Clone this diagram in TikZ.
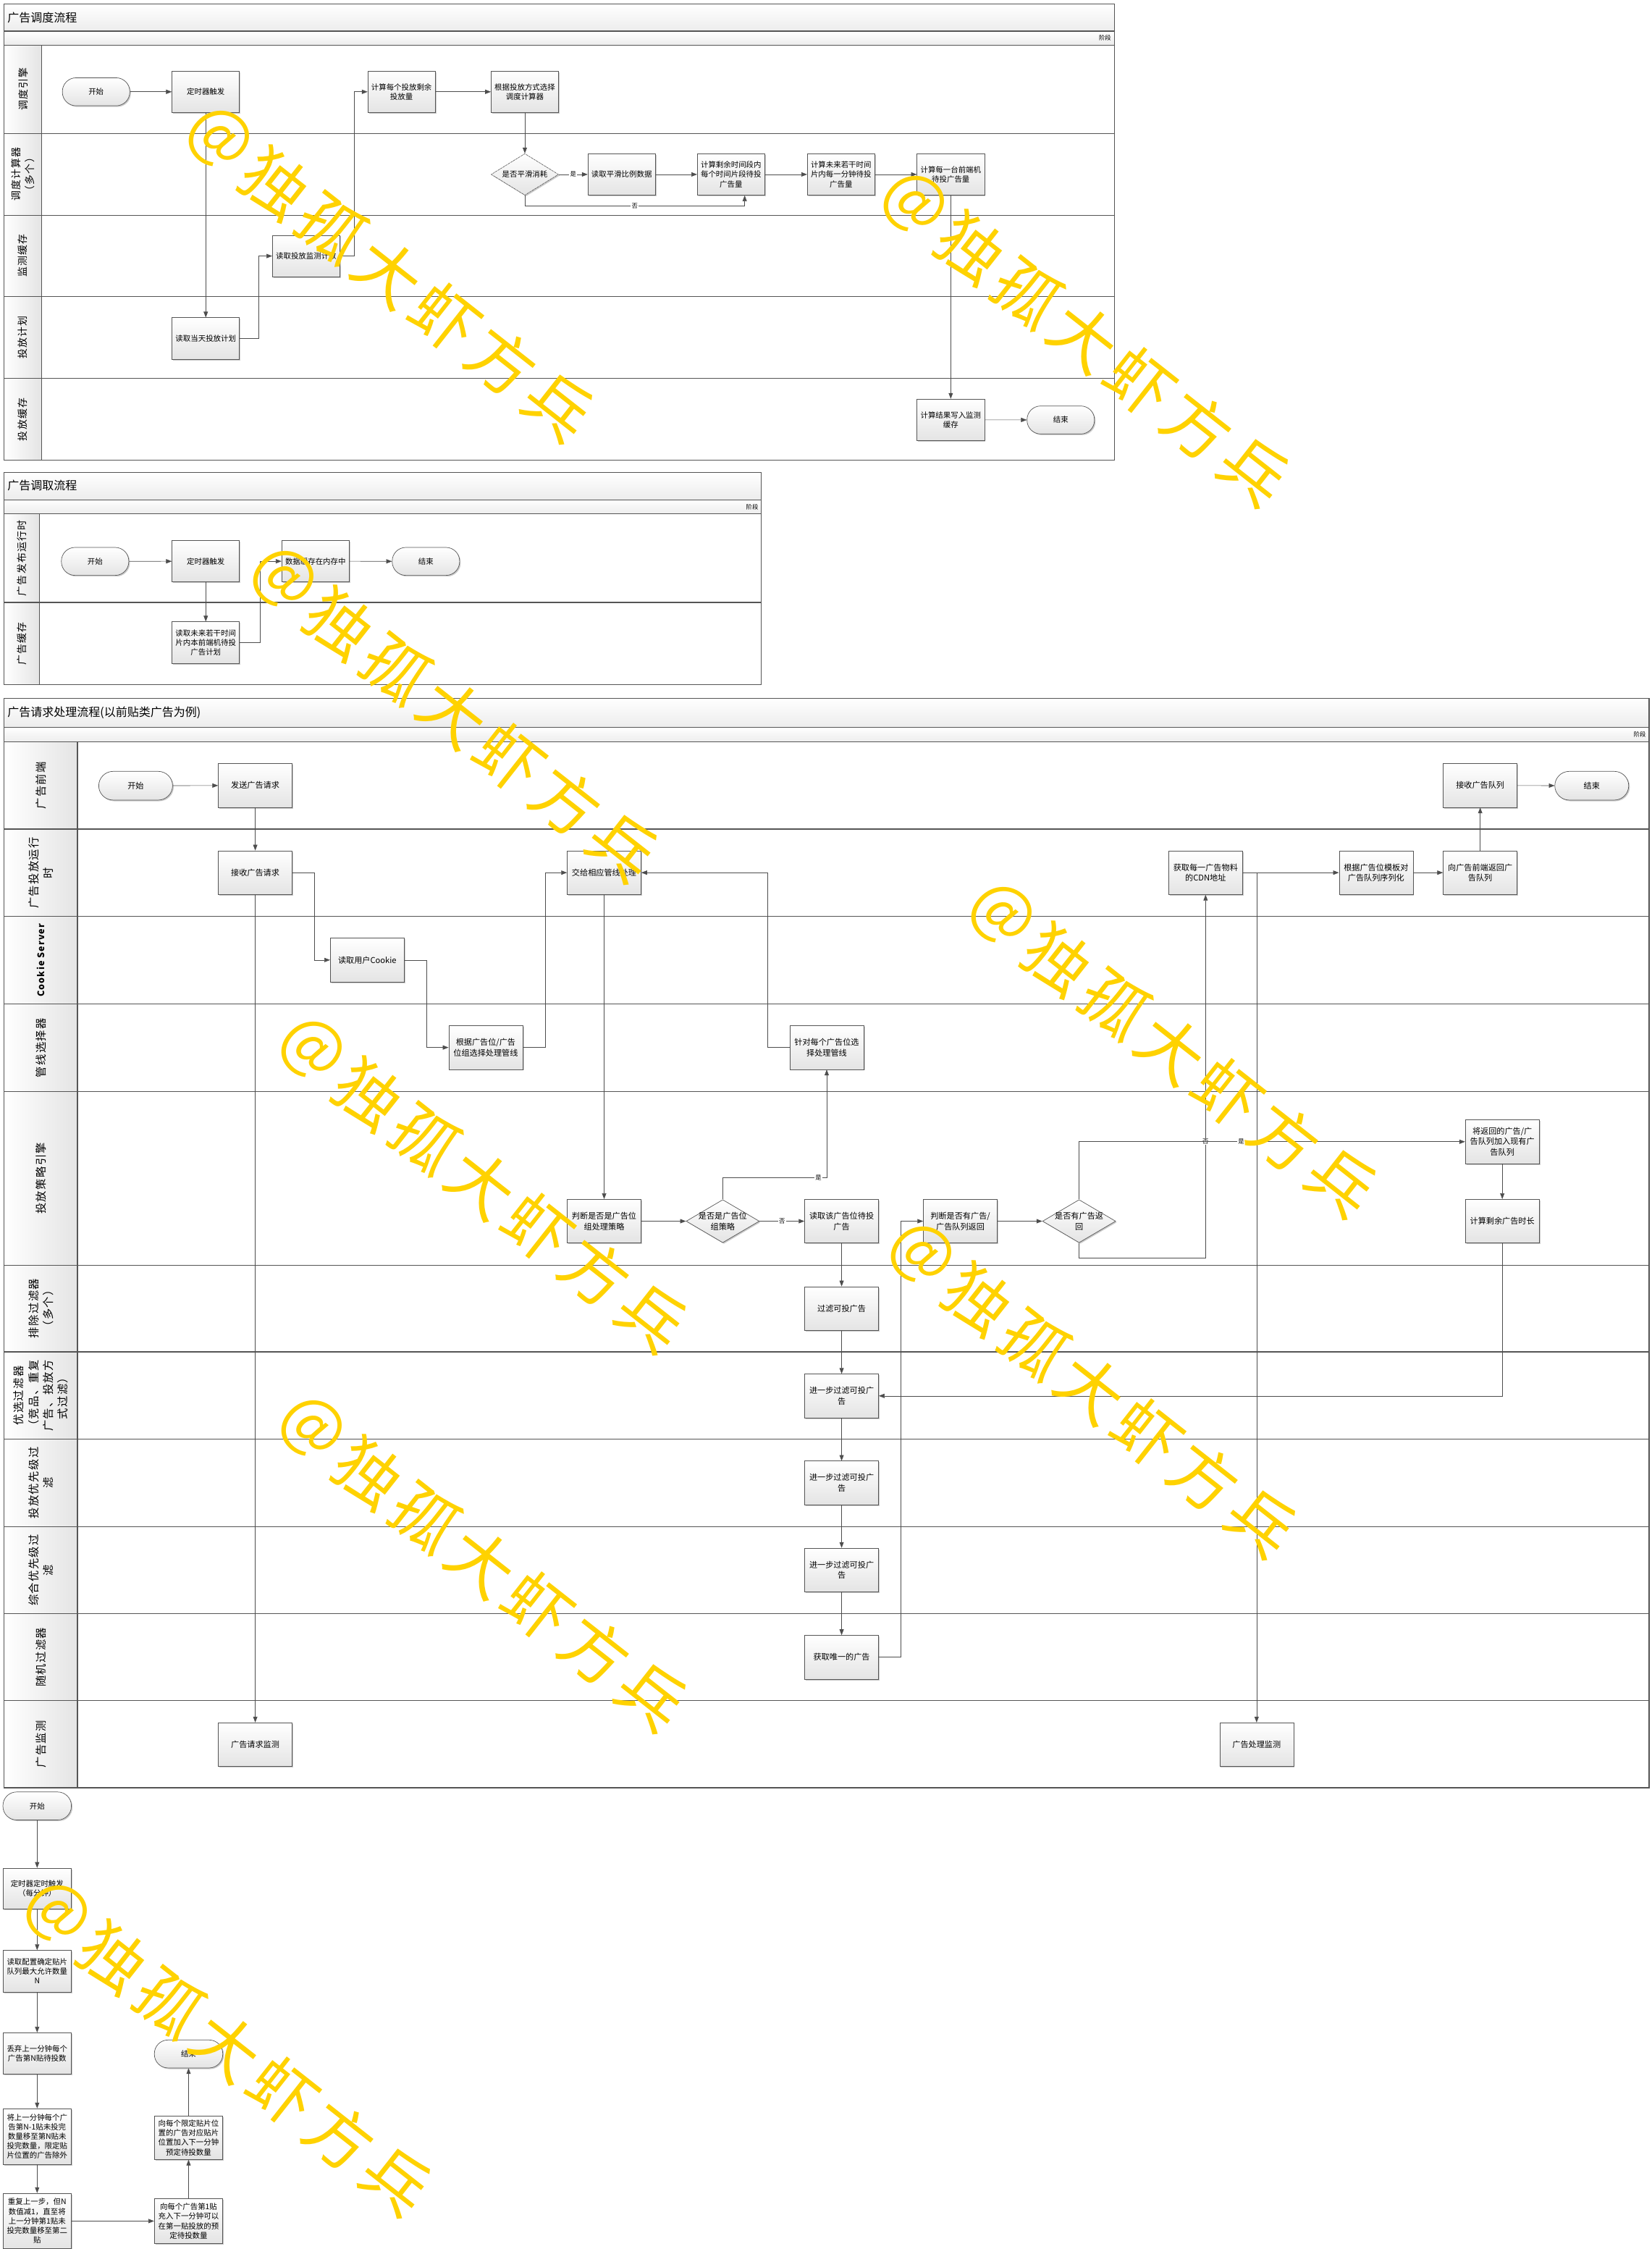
\documentclass[tikz,border=0pt]{standalone}
\usepackage{fontspec}
\setmainfont{Noto Sans CJK SC}
\newfontfamily\lanefont{Noto Sans CJK SC}[LetterSpace=9]
\newfontfamily\wmfont{Noto Sans CJK SC}[LetterSpace=10]
\usetikzlibrary{positioning, shapes.geometric, shadows, arrows.meta}

\definecolor{linegray}{HTML}{4D4D4D}
\definecolor{framegray}{HTML}{555555}
\definecolor{bandgray}{HTML}{E4E4E4}
\definecolor{wmyellow}{HTML}{FFD200}

\tikzset{
  box/.style={draw=framegray, line width=0.35mm, top color=white, bottom color=bandgray,
    minimum width=47mm, minimum height=29mm, inner sep=0.5mm, align=center,
    font=\fontsize{15pt}{19pt}\selectfont,
    drop shadow={shadow xshift=0.8mm, shadow yshift=-0.8mm, fill=black!35, opacity=0.6}},
  bigbox/.style={box, minimum width=51.5mm, minimum height=30.5mm,
    font=\fontsize{16pt}{21pt}\selectfont},
  term/.style={box, rounded corners=9.5mm, minimum height=19.5mm},
  bigterm/.style={bigbox, rounded corners=10mm, minimum height=20mm},
  decision/.style={box, shape=diamond, inner sep=-8mm, densely dashdotted},
  bigdecision/.style={bigbox, shape=diamond, inner sep=-8mm, minimum width=51mm, minimum height=30mm},
  flow/.style={draw=linegray, line width=0.3mm, -{Triangle[length=4mm, width=3mm]}},
  yesno/.style={fill=white, inner sep=0.6mm, font=\fontsize{12pt}{12pt}\selectfont},
  frame/.style={draw=framegray, line width=0.55mm},
  title/.style={anchor=west, font=\fontsize{23pt}{23pt}\selectfont},
  phase/.style={anchor=east, font=\fontsize{12pt}{12pt}\selectfont},
  lane/.style={rotate=90, align=center, font=\lanefont\fontsize{20pt}{28pt}\selectfont},
  biglane/.style={lane, font=\lanefont\fontsize{22pt}{29pt}\selectfont},
  wmark/.style={rotate=-38.2, text=wmyellow, font=\wmfont\fontsize{130pt}{130pt}\selectfont}
}

\begin{document}
\begin{tikzpicture}[x=1mm, y=-1mm]
\useasboundingbox (0,0) rectangle (1152,1568);

% 广告调度流程
\shade[top color=white, bottom color=bandgray!70] (3,3) rectangle (777,21.7);
\shade[top color=white, bottom color=bandgray!70] (3,21.7) rectangle (777,31.4);
\shade[left color=white, right color=bandgray] (3,31.4) rectangle (29,321);
\draw[frame] (3,3) rectangle (777,321);
\draw[frame] (3,21.7) -- (777,21.7);
\draw[frame] (3,31.4) -- (777,31.4);
\draw[frame] (29,31.4) -- (29,321);
\draw[frame] (3,93) -- (777,93);
\draw[frame] (3,150) -- (777,150);
\draw[frame] (3,206.6) -- (777,206.6);
\draw[frame] (3,264) -- (777,264);
\node[title] (t1) at (4,12.3) {广告调度流程};
\node[phase] (p1) at (776,26.5) {阶段};
\node[lane] (l1a) at (16,62.2) {调度引擎};
\node[lane] (l1b) at (16,121.5) {调度计算器\\（多个）};
\node[lane] (l1c) at (16,178.3) {监测缓存};
\node[lane] (l1d) at (16,235.3) {投放计划};
\node[lane] (l1e) at (16,292.5) {投放缓存};

\node[term] (s1start) at (67,64) {开始};
\node[box] (s1timer) at (143.5,64) {定时器触发};
\node[box] (s1plan) at (143.5,236) {读取当天投放计划};
\node[box] (s1count) at (213.5,178.5) {读取投放监测计数};
\node[box] (s1remain) at (280,64) {计算每个投放剩余\\投放量};
\node[box] (s1choose) at (366,64) {根据投放方式选择\\调度计算器};
\node[decision] (s1smooth) at (366,121.6) {是否平滑消耗};
\node[box] (s1ratio) at (433.5,121.6) {读取平滑比例数据};
\node[box] (s1slice) at (509.8,121.6) {计算剩余时间段内\\每个时间片段待投\\广告量};
\node[box] (s1minute) at (586.5,121.6) {计算未来若干时间\\片内每一分钟待投\\广告量};
\node[box] (s1front) at (663,121.6) {计算每一台前端机\\待投广告量};
\node[box] (s1write) at (663,292.7) {计算结果写入监测\\缓存};
\node[term] (s1end) at (739.7,292.8) {结束};

\draw[flow] (s1start) -- (s1timer);
\draw[flow] (s1timer) -- (s1plan);
\draw[flow] (s1plan.east) -- ++(13,0) |- (s1count.west);
\draw[flow] (s1count.east) -- ++(10,0) |- (s1remain.west);
\draw[flow] (s1remain) -- (s1choose);
\draw[flow] (s1choose) -- (s1smooth);
\draw[flow] (s1smooth) -- (s1ratio) node[yesno, pos=0.5] {是};
\draw[flow] (s1smooth.south) -- ++(0,7.3) -| ([xshift=9.5mm]s1slice.south) node[yesno, pos=0.25] {否};
\draw[flow] (s1ratio) -- (s1slice);
\draw[flow] (s1slice) -- (s1minute);
\draw[flow] (s1minute) -- (s1front);
\draw[flow] (s1front) -- (s1write);
\draw[flow] (s1write) -- (s1end);

% 广告调取流程
\shade[top color=white, bottom color=bandgray!70] (3,329.6) rectangle (531,348.5);
\shade[top color=white, bottom color=bandgray!70] (3,348.5) rectangle (531,358.2);
\shade[left color=white, right color=bandgray] (3,358.2) rectangle (27.5,477.3);
\draw[frame] (3,329.6) rectangle (531,477.3);
\draw[frame] (3,348.5) -- (531,348.5);
\draw[frame] (3,358.2) -- (531,358.2);
\draw[frame] (27.5,358.2) -- (27.5,477.3);
\draw[frame] (3,420) -- (531,420);
\node[title] (t2) at (4,338.7) {广告调取流程};
\node[phase] (p2) at (530,353.3) {阶段};
\node[lane] (l2a) at (15.2,389.1) {广告发布运行时};
\node[lane] (l2b) at (15.2,448.7) {广告缓存};

\node[term] (s2start) at (66.3,391.4) {开始};
\node[box] (s2timer) at (143.5,391.3) {定时器触发};
\node[box] (s2read) at (143.5,448) {读取未来若干时间\\片内本前端机待投\\广告计划};
\node[box] (s2mem) at (220,391.3) {数据缓存在内存中};
\node[term] (s2end) at (297,391.4) {结束};

\draw[flow] (s2start) -- (s2timer);
\draw[flow] (s2timer) -- (s2read);
\draw[flow] (s2read.east) -- ++(14,0) |- (s2mem.west);
\draw[flow] (s2mem) -- (s2end);

% 广告请求处理流程
\shade[top color=white, bottom color=bandgray!70] (3,486.9) rectangle (1150,507.1);
\shade[top color=white, bottom color=bandgray!70] (3,507.1) rectangle (1150,517.4);
\shade[left color=white, right color=bandgray] (3,517.4) rectangle (54,1246.4);
\draw[frame] (3,486.9) rectangle (1150,1246.4);
\draw[frame] (3,507.1) -- (1150,507.1);
\draw[frame] (3,517.4) -- (1150,517.4);
\draw[frame] (54,517.4) -- (54,1246.4);
\draw[frame] (3,578) -- (1150,578);
\draw[frame] (3,639) -- (1150,639);
\draw[frame] (3,700) -- (1150,700);
\draw[frame] (3,761) -- (1150,761);
\draw[frame] (3,882) -- (1150,882);
\draw[frame] (3,942.5) -- (1150,942.5);
\draw[frame] (3,1003.4) -- (1150,1003.4);
\draw[frame] (3,1064.3) -- (1150,1064.3);
\draw[frame] (3,1125.1) -- (1150,1125.1);
\draw[frame] (3,1185.7) -- (1150,1185.7);
\node[title] (t3) at (4,497) {广告请求处理流程(以前贴类广告为例)};
\node[phase] (p3) at (1149,512.2) {阶段};
\node[biglane] (l3a) at (28.5,547.7) {广告前端};
\node[biglane] (l3b) at (28.5,608.5) {广告投放运行\\时};
\node[biglane, font=\lanefont\bfseries\fontsize{18pt}{24pt}\selectfont] (l3c) at (28.5,669.5) {Cookie Server};
\node[biglane] (l3d) at (28.5,730.5) {管线选择器};
\node[biglane] (l3e) at (28.5,821.5) {投放策略引擎};
\node[biglane] (l3f) at (28.5,912.2) {排除过滤器\\（多个）};
\node[biglane] (l3g) at (28.5,973) {优选过滤器\\（竞品、重复\\广告、投放方\\式过滤）};
\node[biglane] (l3h) at (28.5,1033.9) {投放优先级过\\滤};
\node[biglane] (l3i) at (28.5,1094.7) {综合优先级过\\滤};
\node[biglane] (l3j) at (28.5,1155.4) {随机过滤器};
\node[biglane] (l3k) at (28.5,1216) {广告监测};

\node[bigterm] (s3start) at (94.6,547.8) {开始};
\node[bigbox] (s3send) at (178,547.6) {发送广告请求};
\node[bigbox] (s3recv) at (178,608.4) {接收广告请求};
\node[bigbox] (s3cookie) at (256.1,669.3) {读取用户Cookie};
\node[bigbox] (s3pipe) at (338.7,730.3) {根据广告位/广告\\位组选择处理管线};
\node[bigbox] (s3hand) at (421.3,608.4) {交给相应管线处理};
\node[bigbox] (s3each) at (576.5,730.3) {针对每个广告位选\\择处理管线};
\node[bigbox] (s3judge) at (421.3,851.4) {判断是否是广告位\\组处理策略};
\node[bigdecision] (s3isgrp) at (504,851.4) {是否是广告位\\组策略};
\node[bigbox] (s3slot) at (586.9,851.4) {读取该广告位待投\\广告};
\node[bigbox] (s3filter) at (586.9,912.3) {过滤可投广告};
\node[bigbox] (s3pref) at (586.9,973.2) {进一步过滤可投广\\告};
\node[bigbox] (s3prio) at (586.9,1033.9) {进一步过滤可投广\\告};
\node[bigbox] (s3comp) at (586.9,1094.6) {进一步过滤可投广\\告};
\node[bigbox] (s3uniq) at (586.9,1155.4) {获取唯一的广告};
\node[bigbox] (s3hasq) at (669.7,851.4) {判断是否有广告/\\广告队列返回};
\node[bigdecision] (s3hasad) at (752.5,851.4) {是否有广告返\\回};
\node[bigbox] (s3cdn) at (840.7,608.4) {获取每一广告物料\\的CDN地址};
\node[bigbox] (s3tpl) at (959.6,608.4) {根据广告位模板对\\广告队列序列化};
\node[bigbox] (s3ret) at (1032.2,608.4) {向广告前端返回广\\告队列};
\node[bigbox] (s3queue) at (1032.2,547.6) {接收广告队列};
\node[bigterm] (s3end) at (1110,547.8) {结束};
\node[bigbox] (s3merge) at (1047.6,796) {将返回的广告/广\\告队列加入现有广\\告队列};
\node[bigbox] (s3rest) at (1047.6,851.4) {计算剩余广告时长};
\node[bigbox] (s3reqmon) at (178,1216.3) {广告请求监测};
\node[bigbox] (s3procmon) at (876.3,1216.3) {广告处理监测};

\draw[flow] (s3start) -- (s3send);
\draw[flow] (s3send) -- (s3recv);
\draw[flow] (s3recv.east) -- ++(15.5,0) |- (s3cookie.west);
\draw[flow] (s3cookie.east) -- ++(15.5,0) |- (s3pipe.west);
\draw[flow] (s3pipe.east) -- ++(15.5,0) |- (s3hand.west);
\draw[flow] (s3each.west) -- ++(-15.5,0) |- (s3hand.east);
\draw[flow] (s3hand) -- (s3judge);
\draw[flow] (s3recv) -- (s3reqmon);
\draw[flow] (s3judge) -- (s3isgrp);
\draw[flow] (s3isgrp) -- (s3slot) node[yesno, pos=0.5] {否};
\draw[flow] (s3isgrp.north) -- ++(0,-15) -| (s3each.south) node[yesno, pos=0.46] {是};
\draw[flow] (s3slot) -- (s3filter);
\draw[flow] (s3filter) -- (s3pref);
\draw[flow] (s3pref) -- (s3prio);
\draw[flow] (s3prio) -- (s3comp);
\draw[flow] (s3comp) -- (s3uniq);
\draw[flow] (s3uniq.east) -- ++(15.4,0) |- (s3hasq.west);
\draw[flow] (s3hasq) -- (s3hasad);
\draw[flow] (s3hasad.south) -- ++(0,10.2) -| (s3cdn.south) node[yesno, pos=0.66] {否};
\draw[flow] (s3hasad.north) |- (s3merge.west) node[yesno, pos=0.71] {是};
\draw[flow] (s3merge) -- (s3rest);
\draw[flow] (s3rest.south) |- (s3pref.east);
\draw[flow] (s3cdn) -- (s3tpl);
\draw[flow] (s3cdn.east) -| (s3procmon.north);
\draw[flow] (s3tpl) -- (s3ret);
\draw[flow] (s3ret) -- (s3queue);
\draw[flow] (s3queue) -- (s3end);

% 贴片队列
\node[term, minimum width=47.7mm] (s4start) at (25.9,1259.1) {开始};
\node[box, minimum width=47.7mm, minimum height=28.5mm] (s4timer) at (25.9,1316.7) {定时器定时触发\\（每分钟）};
\node[box, minimum width=47.7mm] (s4conf) at (25.9,1374.3) {读取配置确定贴片\\队列最大允许数量\\N};
\node[box, minimum width=47.7mm] (s4drop) at (25.9,1431.7) {丢弃上一分钟每个\\广告第N贴待投数};
\node[box, minimum width=47.7mm, minimum height=38.8mm] (s4move) at (25.9,1489.5) {将上一分钟每个广\\告第N-1贴未投完\\数量移至第N贴未\\投完数量，限定贴\\片位置的广告除外};
\node[box, minimum width=47.7mm, minimum height=38.7mm] (s4repeat) at (25.9,1548.5) {重复上一步，但N\\数值减1，直至将\\上一分钟第1贴未\\投完数量移至第二\\贴};
\node[box, minimum width=47.7mm, minimum height=31mm] (s4first) at (131.5,1548.5) {向每个广告第1贴\\充入下一分钟可以\\在第一贴投放的预\\定待投数量};
\node[box, minimum width=47.7mm, minimum height=30.3mm] (s4fixed) at (131.5,1490.4) {向每个限定贴片位\\置的广告对应贴片\\位置加入下一分钟\\预定待投数量};
\node[term, minimum width=47.7mm] (s4end) at (131.5,1432) {结束};

\draw[flow] (s4start) -- (s4timer);
\draw[flow] (s4timer) -- (s4conf);
\draw[flow] (s4conf) -- (s4drop);
\draw[flow] (s4drop) -- (s4move);
\draw[flow] (s4move) -- (s4repeat);
\draw[flow] (s4repeat) -- (s4first);
\draw[flow] (s4first) -- (s4fixed);
\draw[flow] (s4fixed) -- (s4end);

% 水印
\node[wmark] (wm1) at (271,190) {＠独孤大虾方兵};
\node[wmark] (wm2) at (756,235) {＠独孤大虾方兵};
\node[wmark] (wm3) at (316,497) {＠独孤大虾方兵};
\node[wmark] (wm4) at (817,731) {＠独孤大虾方兵};
\node[wmark] (wm5) at (336,825) {＠独孤大虾方兵};
\node[wmark] (wm6) at (761,968) {＠独孤大虾方兵};
\node[wmark] (wm7) at (336,1089) {＠独孤大虾方兵};
\node[wmark] (wm8) at (158,1427) {＠独孤大虾方兵};
\end{tikzpicture}
\end{document}
